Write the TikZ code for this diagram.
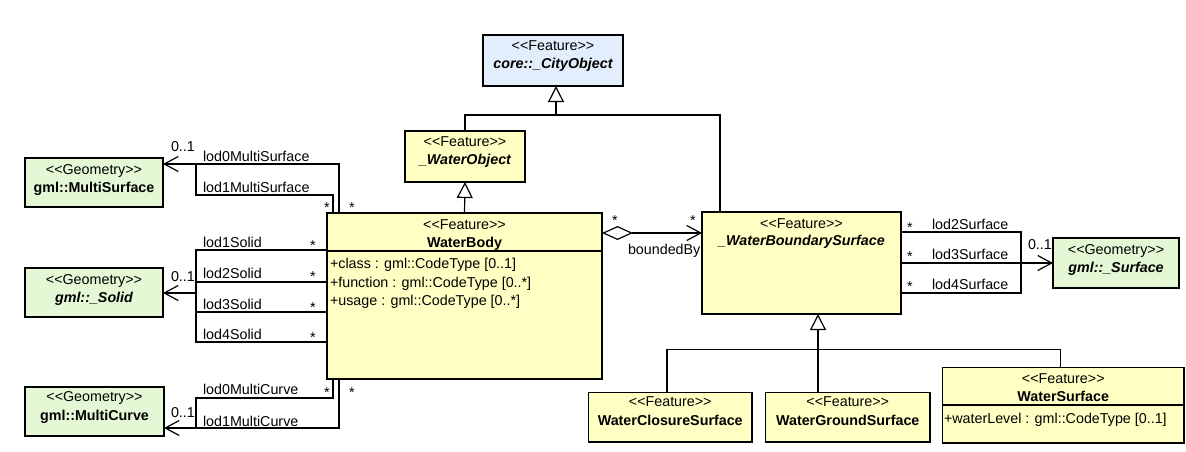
\documentclass[tikz,border=0pt]{standalone}
\usepackage{fontspec}
\setmainfont{Liberation Sans}[Ligatures=TeXOff]
\usetikzlibrary{arrows.meta}

\definecolor{featfill}{HTML}{FFFFC4}
\definecolor{geomfill}{HTML}{E4F8D6}
\definecolor{corefill}{HTML}{E2EEFB}

\begin{document}
\begin{tikzpicture}[x=1pt, y=-1pt,
  font=\fontsize{14.3}{17}\selectfont,
  box/.style={draw=black, line width=1.2pt, inner sep=0pt, outer sep=0pt},
  feat/.style={box, fill=featfill},
  geom/.style={box, fill=geomfill},
  core/.style={box, fill=corefill},
  txt/.style={inner sep=0pt, outer sep=0pt, anchor=base},
  ltxt/.style={inner sep=0pt, outer sep=0pt, anchor=base west},
  conn/.style={draw=black, line width=1.2pt},
  gen/.style={conn, -{Triangle[open, length=16pt, width=16pt, fill=white]}},
  assoc/.style={conn, -{Straight Barb[length=14pt, width=15pt]}},
  agg/.style={conn, {Diamond[open, length=31pt, width=14pt, fill=white]}-{Straight Barb[length=14pt, width=15pt]}},
]
\useasboundingbox (0,0) rectangle (1186,451);

% ---------- classes ----------
\node[core, minimum width=140pt, minimum height=51pt] (city) at (553,60.5) {};
\node[txt] (city-st) at (553,50) {<<Feature>>};
\node[txt, font=\fontsize{14.3}{17}\selectfont\bfseries\itshape] (city-nm) at (553,68) {core::\_CityObject};

\node[feat, minimum width=120pt, minimum height=51pt] (wobj) at (465,156.5) {};
\node[txt] (wobj-st) at (465,146.5) {<<Feature>>};
\node[txt, font=\fontsize{14.3}{17}\selectfont\bfseries\itshape] (wobj-nm) at (465,164.3) {\_WaterObject};

\node[feat, minimum width=275pt, minimum height=166pt] (wb) at (464.5,296) {};
\node[txt] (wb-st) at (464.5,229) {<<Feature>>};
\node[txt, font=\fontsize{14.3}{17}\selectfont\bfseries] (wb-nm) at (464.5,247) {WaterBody};
\coordinate (wbsep) at (0,251);
\draw[box] (wb.west |- wbsep) -- (wb.east |- wbsep);
\node[ltxt] (wb-a1) at (330,268) {+class : gml::CodeType [0..1]};
\node[ltxt] (wb-a2) at (330,287) {+function : gml::CodeType [0..*]};
\node[ltxt] (wb-a3) at (330,305) {+usage : gml::CodeType [0..*]};

\node[feat, minimum width=199pt, minimum height=102pt] (wbs) at (801.5,263) {};
\node[txt] (wbs-st) at (801.5,228) {<<Feature>>};
\node[txt, font=\fontsize{14.3}{17}\selectfont\bfseries\itshape] (wbs-nm) at (801.5,245) {\_WaterBoundarySurface};

\node[geom, minimum width=126pt, minimum height=50pt] (surf) at (1116,263) {};
\node[txt] (surf-st) at (1116,254) {<<Geometry>>};
\node[txt, font=\fontsize{14.3}{17}\selectfont\bfseries\itshape] (surf-nm) at (1116,272) {gml::\_Surface};

\node[geom, minimum width=138pt, minimum height=49pt] (ms) at (94,182.5) {};
\node[txt] (ms-st) at (94,174) {<<Geometry>>};
\node[txt, font=\fontsize{14.3}{17}\selectfont\bfseries] (ms-nm) at (94,192) {gml::MultiSurface};

\node[geom, minimum width=138pt, minimum height=49pt] (solid) at (94,292.5) {};
\node[txt] (solid-st) at (94,284) {<<Geometry>>};
\node[txt, font=\fontsize{14.3}{17}\selectfont\bfseries\itshape] (solid-nm) at (94,302) {gml::\_Solid};

\node[geom, minimum width=139pt, minimum height=49pt] (mc) at (94.5,411.5) {};
\node[txt] (mc-st) at (94.5,401) {<<Geometry>>};
\node[txt, font=\fontsize{14.3}{17}\selectfont\bfseries] (mc-nm) at (94.5,420) {gml::MultiCurve};

\node[feat, minimum width=163.5pt, minimum height=49.5pt] (wcs) at (670.25,417.25) {};
\node[txt] (wcs-st) at (670.25,406.7) {<<Feature>>};
\node[txt, font=\fontsize{14.3}{17}\selectfont\bfseries] (wcs-nm) at (670.25,425) {WaterClosureSurface};

\node[feat, minimum width=164.5pt, minimum height=49.5pt] (wgs) at (847.75,417.25) {};
\node[txt] (wgs-st) at (847.75,406.7) {<<Feature>>};
\node[txt, font=\fontsize{14.3}{17}\selectfont\bfseries] (wgs-nm) at (847.75,425) {WaterGroundSurface};

\node[feat, minimum width=241.5pt, minimum height=75.5pt] (ws) at (1063.25,405.25) {};
\node[txt] (ws-st) at (1063.25,383) {<<Feature>>};
\node[txt, font=\fontsize{14.3}{17}\selectfont\bfseries] (ws-nm) at (1063.25,401) {WaterSurface};
\coordinate (wssep) at (0,405);
\draw[box] (ws.west |- wssep) -- (ws.east |- wssep);
\node[ltxt] (ws-a1) at (944,423) {+waterLevel : gml::CodeType [0..1]};

% ---------- generalizations ----------
\coordinate (gtop) at (556,115);
\coordinate (gtopR) at (720,115);
\draw[gen] (wobj.north) |- (gtop) -- (city.south -| gtop);
\draw[conn] (wbs.north -| gtopR) -- (gtopR) -- (gtop);
\draw[gen] (wb.north) -- (wobj.south);

\coordinate (gbar) at (818,349.5);
\coordinate (gbarL) at (667,349.5);
\coordinate (gbarR) at (1060.5,349.5);
\draw[gen] (wgs.north -| gbar) -- (wbs.south -| gbar);
\draw[conn] (wcs.north -| gbarL) -- (gbarL) -- (gbar);
\draw[conn] (ws.north -| gbarR) -- (gbarR) -- (gbar);

% ---------- boundedBy aggregation ----------
\coordinate (aggy) at (650,233);
\draw[agg] (wb.east |- aggy) -- (wbs.west |- aggy);
\node[txt] (agg-m1) at (615,225) {*};
\node[txt] (agg-m2) at (693,225) {*};
\node[ltxt] (agg-lb) at (628,254) {boundedBy};

% ---------- surface geometry ----------
\coordinate (s2) at (1021,232);
\coordinate (sj) at (1021,263);
\coordinate (s4) at (1021,293);
\draw[conn] (wbs.east |- s2) -- (s2) -- (sj);
\draw[conn] (wbs.east |- s4) -- (s4) -- (sj);
\draw[assoc] (wbs.east |- sj) -- (surf.west |- sj);
\node[txt] (s2-m) at (910,232) {*};
\node[txt] (s3-m) at (910,261) {*};
\node[txt] (s4-m) at (910,291) {*};
\node[ltxt] (s2-lb) at (932,229) {lod2Surface};
\node[ltxt] (s3-lb) at (932,259) {lod3Surface};
\node[ltxt] (s4-lb) at (932,289) {lod4Surface};
\node[ltxt] (s-mult) at (1028,249) {0..1};

% ---------- multi surface ----------
\coordinate (ms0) at (339,164);
\coordinate (ms1) at (333,195);
\coordinate (msj) at (196,164);
\draw[assoc] (wb.north -| ms0) -- (ms0) -- (ms.east |- ms0);
\draw[conn] (wb.north -| ms1) -- (ms1) -- (ms1 -| msj) -- (msj);
\node[ltxt] (ms0-lb) at (203,161) {lod0MultiSurface};
\node[ltxt] (ms1-lb) at (203,192) {lod1MultiSurface};
\node[ltxt] (ms-mult) at (171,151) {0..1};
\node[txt] (ms1-m) at (327,212) {*};
\node[txt] (ms0-m) at (352,212) {*};

% ---------- solids ----------
\coordinate (sl1) at (196,250);
\coordinate (sl2) at (196,282);
\coordinate (sl3) at (196,312);
\coordinate (sl4) at (196,342);
\coordinate (sv) at (196,293);
\draw[conn] (wb.west |- sl1) -- (sl1) -- (sl4) -- (wb.west |- sl4);
\draw[conn] (wb.west |- sl2) -- (sl2);
\draw[conn] (wb.west |- sl3) -- (sl3);
\draw[assoc] (sv) -- (solid.east |- sv);
\node[ltxt] (sl1-lb) at (203,247) {lod1Solid};
\node[ltxt] (sl2-lb) at (203,278) {lod2Solid};
\node[ltxt] (sl3-lb) at (203,309) {lod3Solid};
\node[ltxt] (sl4-lb) at (203,339) {lod4Solid};
\node[txt] (sl1-m) at (313,250) {*};
\node[txt] (sl2-m) at (313,281) {*};
\node[txt] (sl3-m) at (313,312) {*};
\node[txt] (sl4-m) at (313,342) {*};
\node[ltxt] (sl-mult) at (171,281) {0..1};

% ---------- multi curve ----------
\coordinate (mc0) at (333,398);
\coordinate (mc0b) at (196,398);
\coordinate (mc1) at (339,428);
\coordinate (mcj) at (196,428);
\draw[assoc] (wb.south -| mc1) -- (mc1) -- (mc.east |- mc1);
\draw[conn] (wb.south -| mc0) -- (mc0) -- (mc0b) -- (mcj);
\node[ltxt] (mc0-lb) at (203,394) {lod0MultiCurve};
\node[ltxt] (mc1-lb) at (203,426) {lod1MultiCurve};
\node[txt] (mc0-m) at (327,397) {*};
\node[txt] (mc1-m) at (352,397) {*};
\node[ltxt] (mc-mult) at (171,417) {0..1};
\end{tikzpicture}
\end{document}
